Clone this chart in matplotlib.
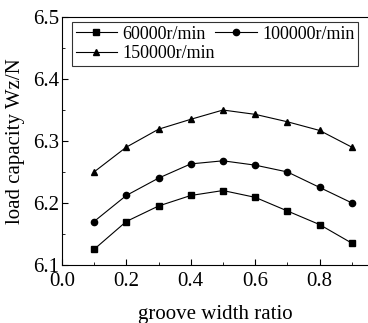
import matplotlib
matplotlib.use("Agg")
import matplotlib.pyplot as plt
from matplotlib.ticker import MultipleLocator

plt.rcParams['font.family'] = ['Liberation Serif', 'DejaVu Serif']

ratio = [0.1, 0.2, 0.3, 0.4, 0.5, 0.6, 0.7, 0.8, 0.9]
w_60000 = [6.125, 6.170, 6.195, 6.212, 6.220, 6.209, 6.187, 6.165, 6.135]
w_100000 = [6.170, 6.212, 6.240, 6.263, 6.268, 6.261, 6.250, 6.225, 6.200]
w_150000 = [6.250, 6.290, 6.319, 6.335, 6.350, 6.343, 6.331, 6.317, 6.290]
labels = ["60000r/min", "100000r/min", "150000r/min"]

fig = plt.figure(figsize=(3.68, 3.23), dpi=100)
ax = fig.add_axes([0.168, 0.18, 0.832, 0.767])

l1, = ax.plot(ratio, w_60000, color="black", lw=0.8, marker="s", ms=4, label=labels[0])
l2, = ax.plot(ratio, w_100000, color="black", lw=0.8, marker="o", ms=4.5, label=labels[1])
l3, = ax.plot(ratio, w_150000, color="black", lw=0.8, marker="^", ms=5, label=labels[2])

ax.set_xlim(0.0, 0.95)
ax.set_ylim(6.1, 6.5)
ax.xaxis.set_major_locator(MultipleLocator(0.2))
ax.xaxis.set_minor_locator(MultipleLocator(0.1))
ax.yaxis.set_major_locator(MultipleLocator(0.1))
ax.yaxis.set_minor_locator(MultipleLocator(0.05))
ax.xaxis.set_major_formatter(plt.FuncFormatter(lambda v, p: f"{v:.1f}"))
ax.yaxis.set_major_formatter(plt.FuncFormatter(lambda v, p: f"{v:.1f}"))
ax.tick_params(which="both", direction="in", labelsize=15, top=False, right=False)
ax.tick_params(which="major", length=4)
ax.tick_params(which="minor", length=2.5)
ax.tick_params(axis="x", pad=5)
ax.tick_params(axis="y", pad=2)
ax.spines["right"].set_visible(False)

ax.set_xlabel("groove width ratio", fontsize=15, labelpad=10)
ax.set_ylabel("load capacity Wz/N", fontsize=15, labelpad=6)

# row-wise legend order: 60000, 100000 / 150000
leg = ax.legend([l1, l3, l2], [labels[0], labels[2], labels[1]],
                loc="upper left", bbox_to_anchor=(0.033, 0.98), ncol=2, fontsize=13,
                frameon=True, fancybox=False, edgecolor="black", handlelength=2.3,
                borderpad=0.2, labelspacing=0.15, columnspacing=0.0, handletextpad=0.3,
                borderaxespad=0)
leg.get_frame().set_linewidth(0.8)

fig.savefig("out.png", dpi=100)
